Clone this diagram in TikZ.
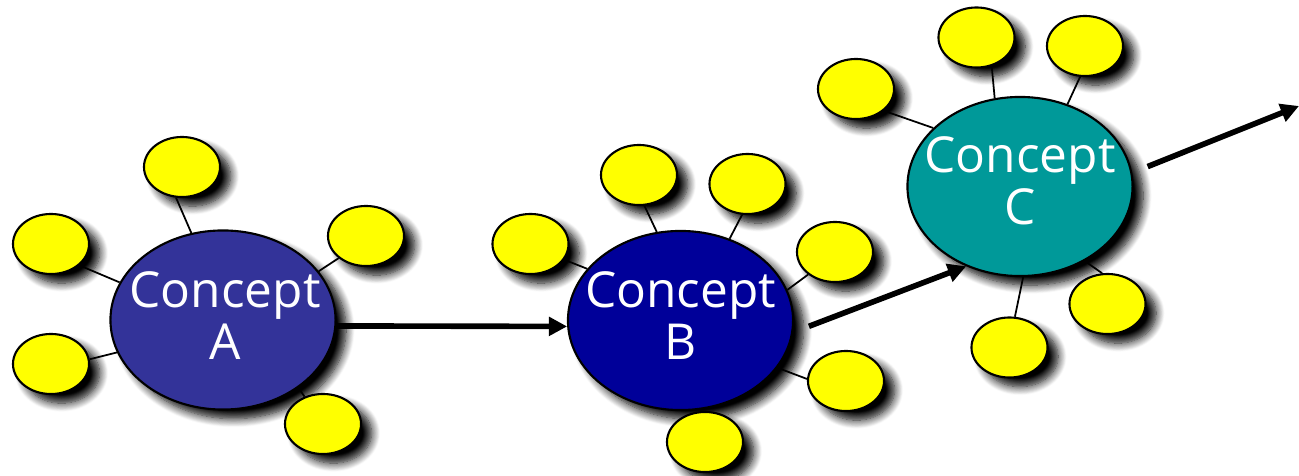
\documentclass[tikz,border=0pt]{standalone}
\usepackage{fontspec}
\setmainfont{Open Sans}
\usetikzlibrary{shapes.geometric,shadows.blur,arrows.meta}
\definecolor{conceptA}{HTML}{333399}
\definecolor{conceptB}{HTML}{000099}
\definecolor{conceptC}{HTML}{009999}
\definecolor{idea}{HTML}{FFFF00}
\begin{document}
\begin{tikzpicture}[x=0.01cm,y=-0.01cm,
  soft/.style={blur shadow={shadow xshift=3pt,shadow yshift=-2.6pt,shadow blur radius=2.4pt,shadow blur steps=10,shadow opacity=100}},
  concept/.style={ellipse,draw=black,line width=0.6pt,minimum width=2.25cm,minimum height=1.79cm,inner sep=0pt,soft},
  ideabox/.style={ellipse,draw=black,fill=idea,line width=0.6pt,minimum width=0.76cm,minimum height=0.60cm,inner sep=0pt,soft},
  ctext/.style={text=white,align=center,inner sep=0pt,font=\fontsize{14.1pt}{14.8pt}\selectfont},
  link/.style={line width=0.5pt},
  flow/.style={line width=1.6pt,-{Triangle[length=5.2pt,width=5.2pt]}}
]
\useasboundingbox (0,0) rectangle (1299,476);

% main concepts
\node[concept,fill=conceptA] (A) at (223,320) {};
\node[concept,fill=conceptB] (B) at (680.5,320.5) {};
\node[concept,fill=conceptC] (C) at (1020,186.5) {};

% satellite ideas around A
\node[ideabox] (a1) at (182,167) {};
\node[ideabox] (a2) at (51,244) {};
\node[ideabox] (a3) at (51,364) {};
\node[ideabox] (a4) at (366,236) {};
\node[ideabox] (a5) at (323,424) {};

% satellite ideas around B
\node[ideabox] (b1) at (530.5,244) {};
\node[ideabox] (b2) at (639,175) {};
\node[ideabox] (b3) at (747.5,184) {};
\node[ideabox] (b4) at (835,252) {};
\node[ideabox] (b5) at (846,381) {};
\node[ideabox] (b6) at (705,442) {};

% satellite ideas around C
\node[ideabox] (c1) at (856,89) {};
\node[ideabox] (c2) at (976.5,37.5) {};
\node[ideabox] (c3) at (1085,46) {};
\node[ideabox] (c4) at (1107.5,304) {};
\node[ideabox] (c5) at (1009.5,347.5) {};

% spokes
\draw[link] (a1.-101) -- (A.110);
\draw[link] (a2.-37) -- (A.160);
\draw[link] (a3.7) -- (A.-163);
\draw[link] (a4.-141) -- (A.27);
\draw[link] (a5.124) -- (A.-42);

\draw[link] (b1.-25) -- (B.151);
\draw[link] (b2.-80) -- (B.105);
\draw[link] (b3.-100) -- (B.59);
\draw[link] (b4.-140) -- (B.16);
\draw[link] (b5.177) -- (B.-26);

\draw[link] (c1.-38) -- (C.146);
\draw[link] (c2.-62) -- (C.106);
\draw[link] (c3.-99) -- (C.60);
\draw[link] (c4.100) -- (C.-49);
\draw[link] (c5.80) -- (C.-88);

% labels
\node[ctext] (At) at ([xshift=0.6pt,yshift=1.4pt]A.center) {Concept\\A};
\node[ctext] (Bt) at ([yshift=1.4pt]B.center) {Concept\\B};
\node[ctext] (Ct) at ([yshift=1.5pt]C.center) {Concept\\C};

% flow between concepts
\coordinate (next) at (1299,106);
\draw[flow] (A.-3) -- (B.183);
\draw[flow,shorten <=4.8pt] (B.-6) -- (C.-124);
\draw[flow,shorten <=4.7pt] (C.7.4) -- (next);
\end{tikzpicture}
\end{document}
